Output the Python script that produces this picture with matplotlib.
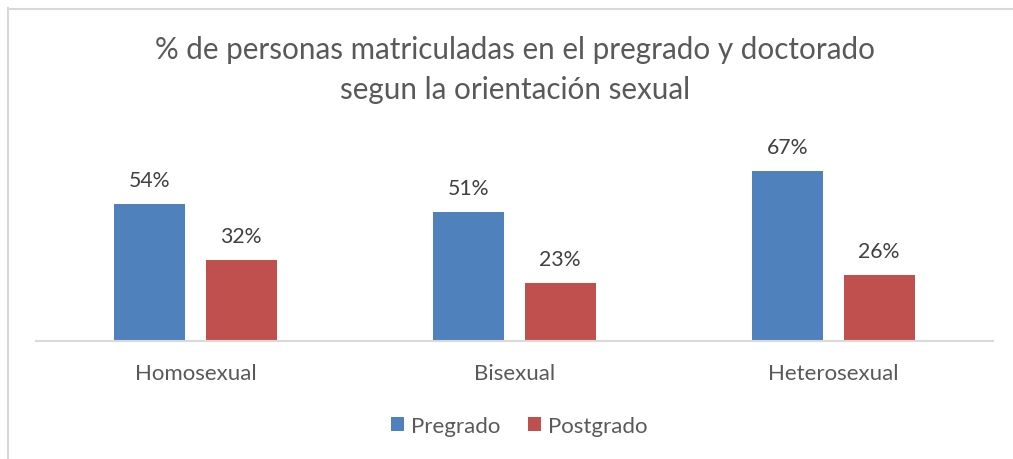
import matplotlib
matplotlib.use("Agg")
import matplotlib.pyplot as plt
import numpy as np

categories = ["Homosexual", "Bisexual", "Heterosexual"]
pregrado = [54, 51, 67]
postgrado = [32, 23, 26]
series_names = ["Pregrado", "Postgrado"]

title = "% de personas matriculadas en el pregrado y doctorado\nsegun la orientación sexual"

blue = "#4F81BD"
red = "#C0504D"
txt = "#595959"

plt.rcParams['font.family'] = ['Lato', 'DejaVu Sans']

W, H = 1013, 460
fig = plt.figure(figsize=(W / 100, H / 100), dpi=100)
ax = fig.add_axes([36 / W, (H - 342) / H, (993 - 36) / W, 202.4 / H])

x = np.arange(len(categories))
width = 0.2226
gap = 0.063
off = (width + gap) / 2
b1 = ax.bar(x - off, pregrado, width, color=blue, label=series_names[0])
b2 = ax.bar(x + off, postgrado, width, color=red, label=series_names[1])

for bars, vals in ((b1, pregrado), (b2, postgrado)):
  for rect, v in zip(bars, vals):
    ax.annotate("{}%".format(v), (rect.get_x() + rect.get_width() / 2, v),
                textcoords="offset points", xytext=(0, 17.5), ha='center', va='center',
                fontsize=15.3, color="#404040")

ax.set_xlim(-0.5, 2.5)
ax.set_ylim(0, 80)
for s in ("top", "right", "left"):
  ax.spines[s].set_visible(False)
ax.spines["bottom"].set_color("#D9D9D9")
ax.spines["bottom"].set_linewidth(1.5)
ax.set_yticks([])
ax.set_xticks(x)
ax.set_xticklabels(categories, fontsize=16, color=txt)
ax.tick_params(axis='x', length=0, pad=16)

fig.text(515 / W, 1 - 70 / H, title, ha='center', va='center', fontsize=21.3,
         color=txt, linespacing=1.5)

fig.legend(handles=[b1, b2], loc="center", bbox_to_anchor=(519 / W, 1 - 427 / H),
           ncol=2, frameon=False, fontsize=16, handlelength=0.59, handleheight=0.59,
           handletextpad=0.31, columnspacing=1.26, labelcolor=txt)

# chart border (only left and top edges visible in the crop)
fig.add_artist(plt.Line2D([7.5 / W, 7.5 / W], [0, 1 - 9 / H], transform=fig.transFigure,
                          color="#D9D9D9", lw=1.5))
fig.add_artist(plt.Line2D([7.5 / W, 1], [1 - 9.5 / H, 1 - 9.5 / H], transform=fig.transFigure,
                          color="#D9D9D9", lw=1.5))

fig.savefig("out.png", dpi=100)
